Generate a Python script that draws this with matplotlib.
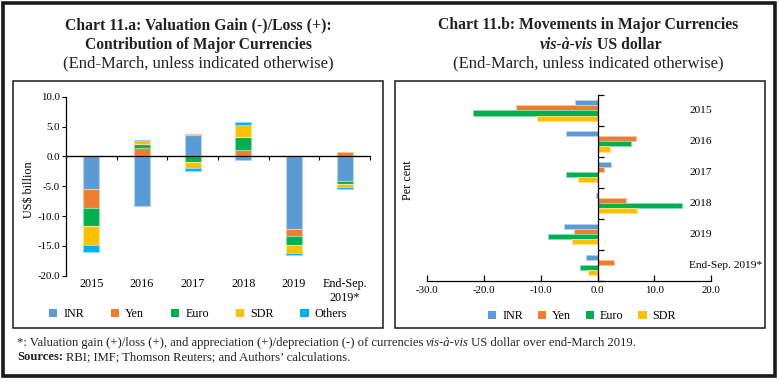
import numpy as np
import matplotlib
matplotlib.use('Agg')
from matplotlib import pyplot as plt
from matplotlib.patches import Patch, Rectangle
from matplotlib.colors import to_rgb

# Chart 11.a data (US$ billion)
years_a = ['2015', '2016', '2017', '2018', '2019', 'End-Sep.\n2019*']
inr_a = [-5.5, -8.4, 3.5, -0.6, -12.2, -4.2]
yen_a = [-3.1, 1.4, 0.3, 1.1, -1.2, 0.8]
euro_a = [-3.0, 0.7, -1.0, 2.2, -1.5, -0.4]
sdr_a = [-3.3, 0.6, -1.0, 2.0, -1.3, -0.55]
others_a = [-1.05, 0.0, -0.5, 0.45, -0.35, -0.25]

# Chart 11.b data (per cent)
years_b = ['2015', '2016', '2017', '2018', '2019', 'End-Sep. 2019*']
inr_b = [-3.9, -5.6, 2.4, -0.25, -5.9, -2.1]
yen_b = [-14.4, 6.8, 1.2, 5.0, -4.2, 2.9]
euro_b = [-22.0, 5.9, -5.6, 14.9, -8.8, -3.0]
sdr_b = [-10.7, 2.2, -3.4, 7.0, -4.5, -1.7]

names_a = ['INR', 'Yen', 'Euro', 'SDR', 'Others']
names_b = ['INR', 'Yen', 'Euro', 'SDR']
colors = ['#5B9BD5', '#ED7D31', '#00B050', '#FFC000', '#00B0F0']

W, H = 779, 382
plt.rcParams['font.family'] = ['Liberation Serif', 'DejaVu Serif']


def light(c, f=0.55):
    r, g, b = to_rgb(c)
    return (r + (1 - r) * f, g + (1 - g) * f, b + (1 - b) * f)


def px(x, y):
    return x / W, 1 - y / H


def rich_line(fig, x, y, parts, size, center=False):
    # parts: (text, weight, style, gap_px_before)
    r = fig.canvas.get_renderer()
    objs = []
    for s, wt, st, gap in parts:
        t = fig.text(0, 1 - y / H, s, fontsize=size, fontweight=wt,
                     fontstyle=st, va='center', ha='left', color='#222222')
        objs.append((t, gap))
    widths = [t.get_window_extent(r).width for t, _ in objs]
    total = sum(widths) + sum(g for _, g in objs)
    start = x - total / 2 if center else x
    for (t, gap), wd in zip(objs, widths):
        start += gap
        t.set_x(start / W)
        start += wd


def main():
    fig = plt.figure(figsize=(W / 100, H / 100), dpi=100)

    # frames
    fig.patches.append(Rectangle(px(2.5, 376), 772 / W, 373.5 / H, transform=fig.transFigure,
                                 fill=False, lw=2.6, ec='#1a1a1a'))
    fig.patches.append(Rectangle(px(13, 328), 370 / W, 247 / H, transform=fig.transFigure,
                                 fill=False, lw=1.1, ec='#1a1a1a'))
    fig.patches.append(Rectangle(px(395, 328), 370 / W, 247 / H, transform=fig.transFigure,
                                 fill=False, lw=1.1, ec='#1a1a1a'))

    # titles
    fig.text(*px(198, 25), 'Chart 11.a: Valuation Gain (-)/Loss (+):', ha='center', va='center',
             fontsize=11.3, fontweight='bold', color='#222222')
    fig.text(*px(198, 45), 'Contribution of Major Currencies', ha='center', va='center',
             fontsize=11.2, fontweight='bold', color='#222222')
    fig.text(*px(198, 63), '(End-March, unless indicated otherwise)', ha='center', va='center',
             fontsize=12, color='#222222')
    fig.text(*px(588, 25), 'Chart 11.b: Movements in Major Currencies', ha='center', va='center',
             fontsize=11.3, fontweight='bold', color='#222222')
    rich_line(fig, 601, 45, [('vis-à-vis', 'bold', 'italic', 0),
                             ('US dollar', 'bold', 'normal', 3.5)], 11.3, center=True)
    fig.text(*px(588, 63), '(End-March, unless indicated otherwise)', ha='center', va='center',
             fontsize=12, color='#222222')

    # ---- Chart 11.a: stacked bars ----
    ax1 = fig.add_axes([66 / W, 1 - 275.7 / H, 304 / W, 179 / H])
    x = np.arange(len(years_a))
    pos = np.zeros(len(x))
    neg = np.zeros(len(x))
    for name, vals, c in zip(names_a, [inr_a, yen_a, euro_a, sdr_a, others_a], colors):
        v = np.array(vals)
        base = np.where(v >= 0, pos, neg)
        ax1.bar(x, v, 0.32, bottom=base, color=c, edgecolor=light(c), lw=0.8, label=name)
        pos += np.where(v >= 0, v, 0)
        neg += np.where(v < 0, v, 0)
    ax1.set_xlim(-0.5, 5.5)
    ax1.set_ylim(-20, 10)
    ax1.set_yticks(np.arange(-20, 10.1, 5))
    ax1.set_yticklabels([f'{t:.1f}' for t in np.arange(-20, 10.1, 5)])
    ax1.set_xticks(x)
    ax1.set_xticklabels(years_a, fontsize=8.7)
    ax1.tick_params(axis='x', length=0, pad=2)
    ax1.tick_params(axis='y', length=3, width=0.8, labelsize=7.8, pad=1.5)
    for s in ['top', 'right', 'bottom']:
        ax1.spines[s].set_visible(False)
    ax1.spines['left'].set_linewidth(0.9)
    sec = ax1.secondary_xaxis(20 / 30)
    bounds = np.arange(-0.5, 6, 1)
    sec.set_xticks(bounds, labels=[''] * len(bounds))
    sec.tick_params(axis='x', direction='in', length=3, width=0.8,
                    labelbottom=False, labeltop=False)
    sec.spines['bottom'].set_linewidth(0.9)
    ax1.axhline(0, color='black', lw=0.9)
    fig.text(*px(29, 190), 'US$ billion', rotation=90, ha='center', va='center', fontsize=8.7)

    h1 = [Patch(facecolor=c) for c in colors]
    fig.legend(h1, names_a, loc='center', bbox_to_anchor=px(198, 314), ncol=5, frameon=False,
               fontsize=8.7, handlelength=0.7, handleheight=0.7, handletextpad=0.5,
               columnspacing=2.2)

    # ---- Chart 11.b: grouped horizontal bars ----
    ax2 = fig.add_axes([427.3 / W, 1 - 280.7 / H, 283.7 / W, 185.7 / H])
    y = np.arange(len(years_b))
    hgt = 0.163
    for i, (name, vals, c) in enumerate(zip(names_b, [inr_b, yen_b, euro_b, sdr_b], colors)):
        ax2.barh(y + (i - 1.5) * hgt, vals, hgt, color=c, edgecolor=light(c), lw=0.6, label=name)
    ax2.set_xlim(-30, 20)
    ax2.set_ylim(5.5, -0.5)
    ax2.set_xticks(np.arange(-30, 21, 10))
    ax2.set_xticklabels([f'{t:.1f}' for t in np.arange(-30, 21, 10)])
    ax2.set_yticks(np.arange(-0.5, 6, 1))
    ax2.set_yticklabels([])
    ax2.tick_params(axis='x', direction='in', length=4, width=0.9, labelsize=7.8, pad=4)
    ax2.tick_params(axis='y', direction='in', length=4, width=0.9)
    ax2.spines['left'].set_position(('data', 0))
    for s in ['top', 'right']:
        ax2.spines[s].set_visible(False)
    ax2.spines['left'].set_linewidth(0.9)
    ax2.spines['bottom'].set_linewidth(0.9)
    for yi, lab in zip(y, years_b):
        ax2.text(16.2, yi, lab, va='center', ha='left', fontsize=8.2)
    fig.text(*px(408, 180), 'Per cent', rotation=90, ha='center', va='center', fontsize=8.7)

    h2 = [Patch(facecolor=c) for c in colors[:4]]
    fig.legend(h2, names_b, loc='center', bbox_to_anchor=px(582, 316), ncol=4, frameon=False,
               fontsize=8.7, handlelength=0.7, handleheight=0.7, handletextpad=0.5,
               columnspacing=1.2)

    # footnotes
    rich_line(fig, 17, 343, [('*: Valuation gain (+)/loss (+), and appreciation (+)/depreciation (-) '
                              'of currencies', 'normal', 'normal', 0),
                             ('vis-à-vis', 'normal', 'italic', 2.7),
                             ('US dollar over end-March 2019.', 'normal', 'normal', 1.5)], 9.1)
    rich_line(fig, 17, 357, [('Sources:', 'bold', 'normal', 0),
                             ('RBI; IMF; Thomson Reuters; and Authors\u2019 calculations.',
                              'normal', 'normal', 2.7)], 9.1)

    fig.savefig('out.png', dpi=100)


if __name__ == '__main__':
    main()
